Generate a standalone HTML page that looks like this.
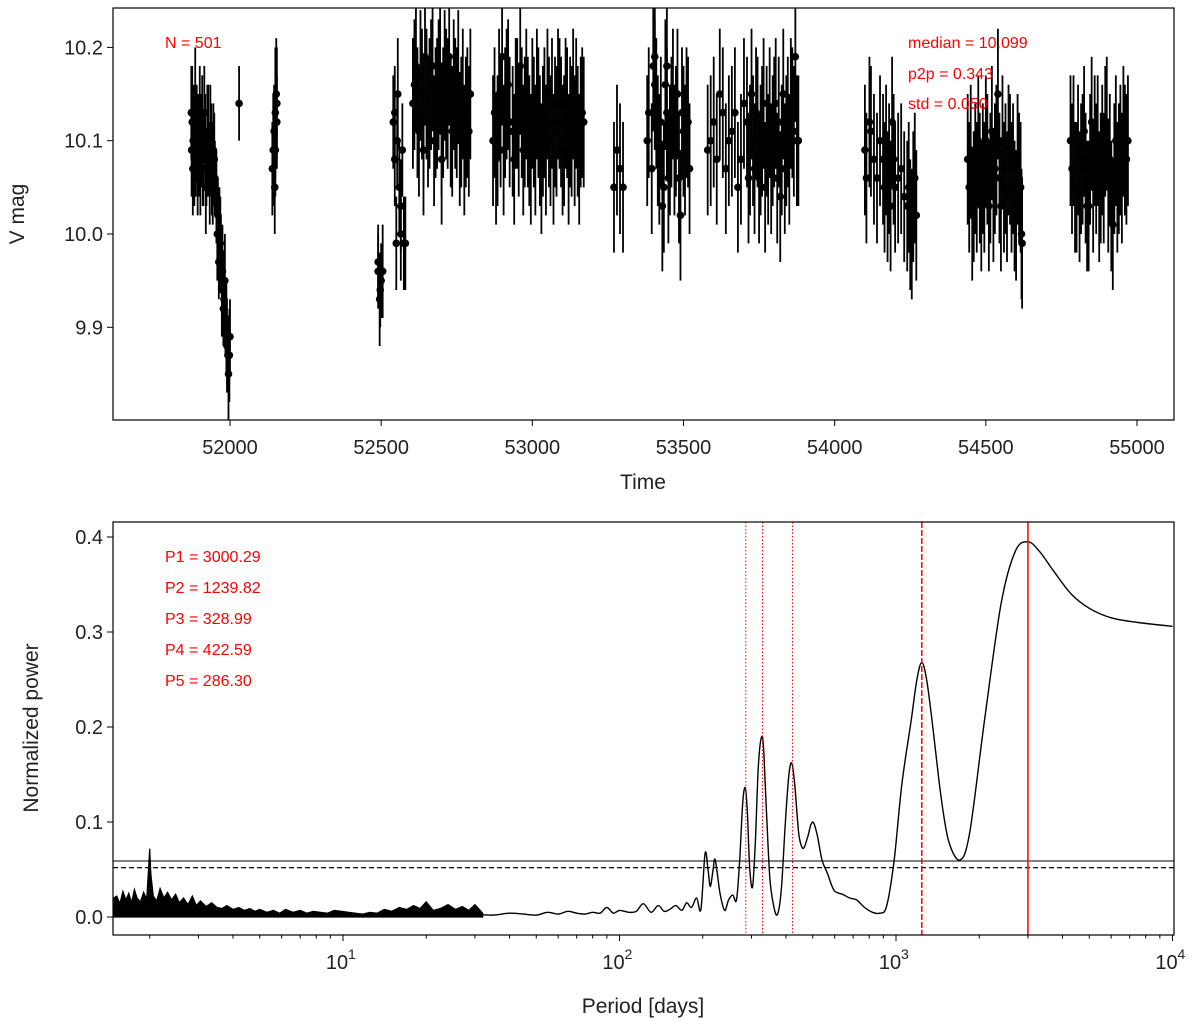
<!DOCTYPE html>
<html><head><meta charset="utf-8"><style>
html,body{margin:0;padding:0;background:#fff;}
svg{display:block;font-family:"Liberation Sans","DejaVu Sans",sans-serif;}
</style></head><body>
<svg id="fig" width="1200" height="1026" viewBox="0 0 1200 1026"></svg>
<script>
// ---- Light curve data ----
const times = [51872,51875,51878,51882,51885,51890,51893,51897,51900,51905,51910,51915,51920,51925,51930,51935,51940,51945,
51950,51955,51960,51965,51970,51975,51980,51985,51990,51995,52000,51998,
52030,
52140,52143,52146,52150,52153,52148,52155,
52490,52495,52500,52505,
52540,52545,52550,52555,52560,52565,52570,52575,52580,
51873,51877,51880,51887,51895,51902,51908,51912,51918,51922,51928,51933,51938,51943,51948,51958,51963,51968,51973,51978,51983,51988,51993,
52490,52497,52545,52553,52565,52150,52155,
52610,52620,52630,52640,52650,52660,52670,52680,52690,52700,52710,52720,52730,52740,52750,52760,52770,52780,52790,
52605,52615,52625,52635,52645,52655,52665,52675,52685,52695,52705,52715,52725,52735,52745,52755,52765,52775,52785,52795,52640,52700,
52870,52880,52890,52900,52910,52920,52935,52950,52960,52975,52990,53000,53010,53020,53035,53050,53060,53075,53090,53100,53115,53130,53145,53160,53170,
52875,52885,52895,52905,52915,52925,52940,52945,52955,52965,52970,52980,52985,52995,53005,53015,53025,53030,53040,53045,53055,53065,53070,53080,53085,53095,53105,53110,53120,53125,53135,53140,53150,53155,53165,
53270,53280,53290,53300,
53380,53400,53410,53420,53430,53440,53450,53460,53470,53480,53490,53500,53510,53520,
53385,53395,53405,53415,53425,53435,53445,53455,53465,53475,53485,53495,53505,53515,53405,53445,
53580,53600,53620,53640,53660,53680,53700,53720,53740,53750,53760,53780,53800,53820,53840,53860,53870,53880,
53590,53610,53630,53650,53670,53690,53710,53715,53725,53730,53735,53745,53755,53765,53770,53775,53785,53790,53795,53805,53810,53815,53825,53830,53835,53845,53850,53855,53865,53875,
54100,54120,54140,54160,54175,54190,54200,54220,54240,54255,54265,54270,
54105,54115,54130,54150,54165,54170,54180,54185,54195,54210,54230,54245,54250,54260,
54440,54460,54480,54500,54510,54530,54540,54560,54580,54600,54610,54620,
54445,54450,54455,54465,54470,54475,54485,54490,54495,54505,54515,54520,54525,54535,54545,54550,54555,54565,54570,54575,54585,54590,54595,54605,54615,54618,
54780,54800,54820,54840,54860,54880,54900,54920,54940,54960,54970,
54785,54790,54795,54805,54810,54815,54825,54830,54835,54845,54850,54855,54865,54870,54875,54885,54890,54895,54905,54910,54915,54925,54930,54935,54945,54950,54955,54965];
const mags = [10.13,10.12,10.10,10.08,10.14,10.11,10.06,10.09,10.12,10.10,10.07,10.13,10.05,10.10,10.08,10.11,10.07,10.09,
10.06,10.04,10.02,10.00,9.98,9.96,9.93,9.91,9.88,9.85,9.89,9.87,
10.14,
10.07,10.09,10.11,10.13,10.15,10.05,10.12,
9.97,9.93,9.95,9.96,
10.12,10.08,9.99,10.15,10.05,10.03,10.09,9.99,9.99,
10.09,10.07,10.12,10.09,10.10,10.06,10.12,10.08,10.10,10.07,10.11,10.06,10.09,10.05,10.08,10.00,9.97,9.99,9.94,9.92,9.95,9.90,9.87,
9.96,9.94,10.13,10.10,10.00,10.09,10.14,
10.16,10.13,10.17,10.12,10.15,10.14,10.18,10.13,10.16,10.11,10.17,10.14,10.12,10.16,10.13,10.10,10.15,10.12,10.11,
10.14,10.18,10.11,10.15,10.19,10.12,10.16,10.10,10.14,10.18,10.13,10.15,10.19,10.11,10.14,10.17,10.12,10.09,10.13,10.15,10.09,10.08,
10.10,10.08,10.15,10.19,10.13,10.16,10.11,10.14,10.18,10.12,10.10,10.14,10.09,10.13,10.11,10.15,10.10,10.12,10.14,10.09,10.13,10.11,10.14,10.12,10.12,
10.13,10.10,10.12,10.09,10.15,10.12,10.08,10.14,10.11,10.13,10.09,10.15,10.12,10.08,10.12,10.15,10.10,10.07,10.13,10.09,10.12,10.14,10.08,10.11,10.15,10.12,10.10,10.14,10.08,10.12,10.15,10.10,10.11,10.08,10.13,
10.05,10.09,10.07,10.05,
10.10,10.18,10.14,10.08,10.03,10.16,10.06,10.12,10.09,10.15,10.02,10.11,10.13,10.07,
10.13,10.07,10.16,10.10,10.12,10.05,10.13,10.09,10.15,10.11,10.06,10.13,10.09,10.12,10.19,10.18,
10.09,10.12,10.15,10.07,10.11,10.05,10.14,10.09,10.13,10.06,10.11,10.08,10.12,10.04,10.10,10.13,10.19,10.10,
10.10,10.08,10.13,10.10,10.13,10.08,10.12,10.06,10.15,10.10,10.07,10.12,10.09,10.14,10.05,10.11,10.13,10.07,10.10,10.14,10.06,10.12,10.09,10.15,10.07,10.12,10.08,10.14,10.11,10.10,
10.09,10.11,10.06,10.08,10.04,10.12,10.05,10.07,10.03,10.00,10.06,10.02,
10.06,10.12,10.08,10.10,10.05,10.09,10.07,10.03,10.08,10.06,10.04,10.05,10.01,10.04,
10.08,10.04,10.06,10.10,10.03,10.07,10.15,10.05,10.08,10.02,10.06,9.99,
10.05,10.09,10.02,10.07,10.05,10.10,10.03,10.07,10.05,10.08,10.06,10.11,10.04,10.09,10.06,10.03,10.10,10.07,10.04,10.09,10.05,10.07,10.03,10.08,10.05,10.00,
10.10,10.05,10.08,10.03,10.10,10.06,10.12,10.01,10.07,10.09,10.10,
10.07,10.10,10.05,10.09,10.04,10.07,10.11,10.06,10.03,10.08,10.12,10.05,10.07,10.10,10.04,10.09,10.06,10.11,10.05,10.08,10.03,10.07,10.10,10.05,10.09,10.06,10.11,10.08];
const errs = [0.05,0.06,0.04,0.05,0.06,0.05,0.04,0.05,0.06,0.05,0.04,0.05,0.05,0.06,0.04,0.05,0.05,0.05,
0.04,0.05,0.04,0.05,0.04,0.05,0.05,0.04,0.05,0.05,0.04,0.05,
0.04,
0.05,0.06,0.05,0.07,0.06,0.05,0.05,
0.04,0.05,0.04,0.05,
0.05,0.05,0.05,0.06,0.05,0.05,0.05,0.05,0.05,
0.05,0.05,0.04,0.05,0.05,0.04,0.05,0.05,0.05,0.04,0.05,0.05,0.05,0.04,0.05,0.05,0.04,0.05,0.05,0.04,0.05,0.05,0.04,
0.04,0.04,0.05,0.05,0.05,0.05,0.06];
const defaultErr = 0.07;
// ---- Periodogram data ----
const noisePeriods = [1.48,1.52,1.56,1.6,1.64,1.68,1.72,1.76,1.8,1.85,1.9,1.95,1.98,2.0,2.02,2.06,2.12,2.18,2.25,2.32,2.4,2.48,2.56,2.65,2.75,2.85,2.95,3.05,3.2,3.35,3.5,3.65,3.8,4.0,4.2,4.4,4.6,4.8,5.0,5.3,5.6,5.9,6.2,6.6,7.0,7.4,7.8,8.3,8.8,9.3,9.9,10.5,11.1,11.8,12.5,13.3,14.1,15.0,16.0,17.0,18.0,19.0,20.0,21.2,22.5,24.0,25.5,27.0,28.5,30.0,32.0];
const noisePower = [0.02,0.022,0.014,0.027,0.018,0.025,0.015,0.029,0.02,0.016,0.026,0.019,0.05,0.072,0.045,0.022,0.017,0.03,0.02,0.026,0.018,0.024,0.015,0.02,0.013,0.022,0.012,0.017,0.011,0.015,0.01,0.009,0.012,0.008,0.01,0.007,0.009,0.006,0.008,0.005,0.007,0.004,0.008,0.005,0.007,0.004,0.006,0.005,0.004,0.007,0.006,0.005,0.004,0.003,0.005,0.004,0.008,0.006,0.01,0.008,0.012,0.009,0.016,0.007,0.009,0.013,0.008,0.011,0.007,0.013,0.004];
const periods = [30,35,40,45,50,55,60,65,70,75,80,85,90,95,100,108,115,122,130,138,145,152,160,168,175,182,190,197,204,209,213,218,222,231,240,248,257,265,272,279,285,290,296,303,310,318,327,333,340,350,362,373,385,398,410,420,430,444,455,465,480,492,504,520,540,565,597,640,680,720,770,822,870,924,985,1050,1135,1190,1240,1290,1350,1450,1550,1705,1850,2090,2400,2700,3000,3300,3700,4300,5000,6000,7500,10000];
const powers = [0.003,0.002,0.004,0.003,0.002,0.005,0.003,0.006,0.004,0.003,0.005,0.004,0.01,0.004,0.007,0.005,0.006,0.014,0.005,0.012,0.006,0.008,0.012,0.007,0.015,0.01,0.02,0.008,0.067,0.05,0.032,0.05,0.06,0.025,0.007,0.018,0.023,0.018,0.06,0.12,0.136,0.11,0.05,0.032,0.08,0.16,0.19,0.17,0.11,0.04,0.01,0.003,0.03,0.1,0.15,0.162,0.14,0.09,0.075,0.073,0.085,0.097,0.099,0.085,0.06,0.046,0.028,0.024,0.02,0.018,0.01,0.005,0.004,0.011,0.06,0.14,0.207,0.25,0.268,0.25,0.207,0.13,0.08,0.06,0.09,0.207,0.33,0.385,0.395,0.385,0.365,0.34,0.325,0.315,0.31,0.306];
const significance = [0.059, 0.052];
const topPeriods = [3000.29,1239.82,328.99,422.59,286.30];
const xTicksTop = [52000,52500,53000,53500,54000,54500,55000];
const yTicksTop = [9.9,10.0,10.1,10.2];
const yTicksBot = [0.0,0.1,0.2,0.3,0.4];
const xTicksBot = [1,2,3,4];

const NS="http://www.w3.org/2000/svg";
const svg=document.getElementById('fig');
function mk(tag,attrs,parent){const e=document.createElementNS(NS,tag);for(const k in attrs)e.setAttribute(k,attrs[k]);(parent||svg).appendChild(e);return e;}

const T={x0:113,x1:1174,y0:8,y1:420};
const B={x0:113,x1:1174,y0:522,y1:935};
const tx=v=>230+(v-52000)*(1137-230)/3000;
const ty=v=>234+(10.0-v)*933;
const bx=p=>343+(Math.log10(p)-1)*276.5;
const by=v=>917-v*950;

// top panel
const gT=mk('g',{});


const clipT=mk('clipPath',{id:'ct'});mk('rect',{x:T.x0,y:T.y0,width:T.x1-T.x0,height:T.y1-T.y0},clipT);
const pts=mk('g',{'clip-path':'url(#ct)'},gT);


for(let i=0;i<times.length;i++){
  const e=errs[i]!==undefined?errs[i]:defaultErr;
  const x=tx(times[i]);
  const l=mk('line',{x1:x,x2:x,y1:ty(mags[i]-e),y2:ty(mags[i]+e),stroke:'#000','stroke-width':1.8},pts);
  
  
  const c=mk('circle',{cx:x,cy:ty(mags[i]),r:3.8,fill:'#000'},pts);
  
  
}
mk('rect',{x:T.x0,y:T.y0,width:T.x1-T.x0,height:T.y1-T.y0,fill:'none',stroke:'#000','stroke-width':1.2},gT);
xTicksTop.forEach(v=>{const x=tx(v);mk('line',{x1:x,x2:x,y1:T.y1,y2:T.y1+6,stroke:'#000'},gT);
 const t=mk('text',{x:x,y:T.y1+34,'font-size':20,'text-anchor':'middle',fill:'#222'},gT);t.textContent=v;
 });
yTicksTop.forEach(v=>{const y=ty(v);mk('line',{x1:T.x0-6,x2:T.x0,y1:y,y2:y,stroke:'#000'},gT);
 const t=mk('text',{x:T.x0-10,y:y+7,'font-size':20,'text-anchor':'end',fill:'#222'},gT);t.textContent=v.toFixed(1);
 });

// bottom panel
const gB=mk('g',{});


const clipB=mk('clipPath',{id:'cb'});mk('rect',{x:B.x0,y:B.y0,width:B.x1-B.x0,height:B.y1-B.y0},clipB);
const inner=mk('g',{'clip-path':'url(#cb)'},gB);
// noise band
let nd='M'+bx(noisePeriods[0]).toFixed(1)+','+by(0);
noisePeriods.forEach((p,i)=>{nd+='L'+bx(p).toFixed(1)+','+by(noisePower[i]).toFixed(1);});
nd+='L'+bx(noisePeriods[noisePeriods.length-1]).toFixed(1)+','+by(0)+'Z';
const nb=mk('path',{d:nd,fill:'#000',stroke:'#000','stroke-width':1.2,'stroke-linejoin':'miter'},inner);


// smooth main curve (Catmull-Rom)
const P=periods.map((p,i)=>[bx(p),by(powers[i])]);
let d='M'+P[0][0].toFixed(1)+','+P[0][1].toFixed(1);
for(let i=0;i<P.length-1;i++){
  const p0=P[i-1]||P[i],p1=P[i],p2=P[i+1],p3=P[i+2]||P[i+1];
  const c1=[p1[0]+(p2[0]-p0[0])/6,p1[1]+(p2[1]-p0[1])/6];
  const c2=[p2[0]-(p3[0]-p1[0])/6,p2[1]-(p3[1]-p1[1])/6];
  d+='C'+c1[0].toFixed(1)+','+c1[1].toFixed(1)+' '+c2[0].toFixed(1)+','+c2[1].toFixed(1)+' '+p2[0].toFixed(1)+','+p2[1].toFixed(1);
}
const pl=mk('path',{d:d,fill:'none',stroke:'#000','stroke-width':1.4},inner);


const s1=mk('line',{x1:B.x0,x2:B.x1,y1:by(significance[0]),y2:by(significance[0]),stroke:'#000','stroke-width':1},inner);


const s2=mk('line',{x1:B.x0,x2:B.x1,y1:by(significance[1]),y2:by(significance[1]),stroke:'#000','stroke-width':1.2,'stroke-dasharray':'5,3'},inner);


topPeriods.forEach((p,i)=>{const x=bx(p);
 const st=i===0?{}:i===1?{'stroke-dasharray':'6,2'}:{'stroke-dasharray':'1.5,2'};
 const l=mk('line',Object.assign({x1:x,x2:x,y1:B.y0,y2:B.y1,stroke:'#f00','stroke-width':i<2?1.5:1},st),inner);
 
 });
mk('rect',{x:B.x0,y:B.y0,width:B.x1-B.x0,height:B.y1-B.y0,fill:'none',stroke:'#000','stroke-width':1.2},gB);
yTicksBot.forEach(v=>{const y=by(v);mk('line',{x1:B.x0-6,x2:B.x0,y1:y,y2:y,stroke:'#000'},gB);
 const t=mk('text',{x:B.x0-10,y:y+7,'font-size':20,'text-anchor':'end',fill:'#222'},gB);t.textContent=v.toFixed(1);
 });
xTicksBot.forEach(k=>{const x=bx(Math.pow(10,k));mk('line',{x1:x,x2:x,y1:B.y1,y2:B.y1+6,stroke:'#000'},gB);
 const t=mk('text',{x:x-6,y:B.y1+34,'font-size':20,'text-anchor':'middle',fill:'#222'},gB);t.textContent='10';
 
 const s=mk('text',{x:x+5,y:B.y1+24,'font-size':14,'text-anchor':'start',fill:'#222'},gB);s.textContent=k;
 });
for(let k=0;k<4;k++)for(let m=2;m<10;m++){const p=m*Math.pow(10,k);const x=bx(p);if(x<B.x0||x>B.x1)continue;
 mk('line',{x1:x,x2:x,y1:B.y1,y2:B.y1+3.5,stroke:'#000'},gB);}

function txt(x,y,s,size,color,anchor,name,rot){const t=document.createElementNS(NS,'text');
 t.setAttribute('x',x);t.setAttribute('y',y);t.setAttribute('font-size',size);t.setAttribute('fill',color);
 t.setAttribute('text-anchor',anchor||'start');if(rot)t.setAttribute('transform',rot);t.textContent=s;
 
 
 svg.appendChild(t);}
txt(165,48,'N = 501',16,'#f00','start','n-annotation');
txt(908,48,'median = 10.099',16,'#f00','start','median-annotation');
txt(908,79,'p2p = 0.343',16,'#f00','start','p2p-annotation');
txt(908,109,'std = 0.050',16,'#f00','start','std-annotation');
['P1 = 3000.29','P2 = 1239.82','P3 = 328.99','P4 = 422.59','P5 = 286.30'].forEach((s,i)=>txt(165,562+i*31,s,16,'#f00','start','period-annotation'));
txt(643,489,'Time',21,'#222','middle','x-axis-title');
txt(643,1013,'Period [days]',21,'#222','middle','x-axis-title-period');
txt(24,214,'V mag',21,'#222','middle','y-axis-title','rotate(-90 24 214)');
txt(38,728,'Normalized power',21,'#222','middle','y-axis-title-power','rotate(-90 38 728)');
</script>
</body></html>
